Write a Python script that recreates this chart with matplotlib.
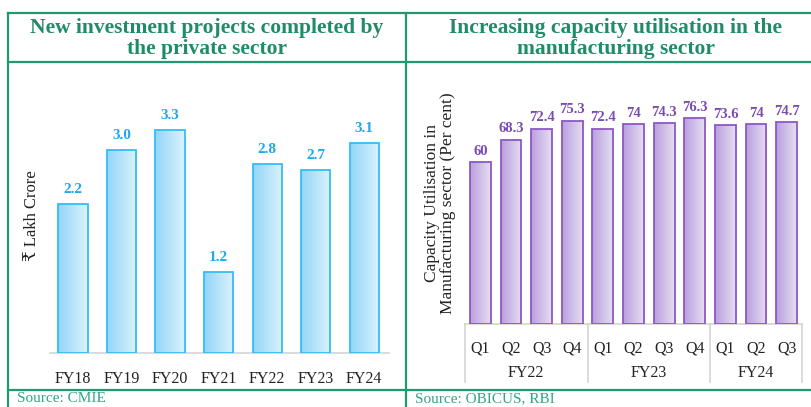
import matplotlib
matplotlib.use("Agg")
import matplotlib.pyplot as plt
import numpy as np
from matplotlib.lines import Line2D
from matplotlib.colors import LinearSegmentedColormap

# ---- data ----
left_categories = ["FY18", "FY19", "FY20", "FY21", "FY22", "FY23", "FY24"]
left_values = [2.2, 3.0, 3.3, 1.2, 2.8, 2.7, 3.1]
left_labels = ["2.2", "3.0", "3.3", "1.2", "2.8", "2.7", "3.1"]

right_quarters = ["Q1", "Q2", "Q3", "Q4", "Q1", "Q2", "Q3", "Q4", "Q1", "Q2", "Q3"]
right_years = ["FY22", "FY23", "FY24"]
right_year_sizes = [4, 4, 3]
right_values = [60, 68.3, 72.4, 75.3, 72.4, 74, 74.3, 76.3, 73.6, 74, 74.7]
right_labels = ["60", "68.3", "72.4", "75.3", "72.4", "74", "74.3", "76.3", "73.6", "74", "74.7"]

left_title = "New investment projects completed by\nthe private sector"
right_title = "Increasing capacity utilisation in the\nmanufacturing sector"
left_ylabel = "₹ Lakh Crore"
right_ylabel = "Capacity Utilisation in\nManufacturing sector (Per cent)"
left_source = "Source: CMIE"
right_source = "Source: OBICUS, RBI"

SERIF = ["Liberation Serif", "DejaVu Serif", "DejaVu Sans"]
plt.rcParams["font.family"] = SERIF

W, H = 812, 407
fig = plt.figure(figsize=(W / 100, H / 100), dpi=100)
fig.patch.set_facecolor("white")

def fx(px):
    return px / W

def fy(py):
    return 1 - py / H

GREEN = "#1f9a70"
TITLE_C = "#1f8c66"
SRC_C = "#2fa585"

# ---- borders ----
lw = 1.6
for (x0, y0, x1, y1) in [
    (8, 13, 812, 13),
    (8, 62, 812, 62),
    (8, 390, 812, 390),
    (8, 13, 8, 407),
    (406, 13, 406, 407),
]:
    fig.add_artist(Line2D([fx(x0), fx(x1)], [fy(y0), fy(y1)], color=GREEN, lw=lw,
                          transform=fig.transFigure))

# ---- titles ----
fig.text(fx(207), fy(38.5), left_title, ha="center", va="center", fontsize=15.5,
         fontweight="bold", color=TITLE_C, linespacing=1.12)
fig.text(fx(616), fy(38.5), right_title, ha="center", va="center", fontsize=15.5,
         fontweight="bold", color=TITLE_C, linespacing=1.12)

# ---- sources ----
fig.text(fx(17), fy(392), left_source, ha="left", va="top", fontsize=11, color=SRC_C)
fig.text(fx(415), fy(392), right_source, ha="left", va="top", fontsize=11, color=SRC_C)


def gradient_bars(ax, bars, c0, c1):
    cmap = LinearSegmentedColormap.from_list("g", [c0, c1])
    grad = np.linspace(0, 1, 64).reshape(1, -1)
    for b in bars:
        x, y = b.get_x(), b.get_y()
        w, h = b.get_width(), b.get_height()
        im = ax.imshow(grad, extent=[x, x + w, y, y + h], aspect="auto", cmap=cmap,
                       zorder=b.get_zorder() - 0.1, interpolation="bicubic")
        im.set_clip_path(b)


# ---- left chart ----
axL = fig.add_axes([fx(50), fy(353), fx(339), (353 - 70) / H])
xl = np.arange(len(left_categories))
barsL = axL.bar(xl, left_values, width=0.6, facecolor="none", edgecolor="#35bdf4",
                linewidth=1.3, zorder=3)
gradient_bars(axL, barsL, "#92d6f8", "#dcf2fd")
axL.set_xlim(-0.473, 6.51)
axL.set_ylim(0, 283 / 67.6)
for i, (v, t) in enumerate(zip(left_values, left_labels)):
    axL.text(i, v + 0.12, t, ha="center", va="bottom", fontsize=11,
             fontweight="bold", color="#1fa8ea")
for s in ["top", "right", "left"]:
    axL.spines[s].set_visible(False)
axL.spines["bottom"].set_color("#d4d4d4")
axL.spines["bottom"].set_linewidth(1.2)
axL.set_yticks([])
axL.set_xticks(xl)
axL.set_xticklabels(left_categories, fontsize=11.5, color="#222222")
axL.tick_params(axis="x", length=0, pad=13)
axL.set_facecolor("none")
fig.text(fx(32), fy(216), left_ylabel, rotation=90, ha="center", va="center",
         fontsize=12, color="#222222", family=SERIF)

# ---- right chart ----
axR = fig.add_axes([fx(465), fy(324), fx(337), (324 - 70) / H])
xr = np.arange(len(right_values))
barsR = axR.bar(xr, right_values, width=0.68, facecolor="none", edgecolor="#8c58c4",
                linewidth=1.3, zorder=3)
gradient_bars(axR, barsR, "#b9a0de", "#e6ddf2")
axR.set_xlim(-0.5, 10.5)
axR.set_ylim(0, 254 / 2.7)
for i, (v, t) in enumerate(zip(right_values, right_labels)):
    axR.text(i, v + 1.6, t, ha="center", va="bottom", fontsize=10.5,
             fontweight="bold", color="#7a4bb0")
for s in ["top", "right", "left"]:
    axR.spines[s].set_visible(False)
axR.spines["bottom"].set_color("#d4d4d4")
axR.spines["bottom"].set_linewidth(1.2)
axR.set_yticks([])
axR.set_xticks(xr)
axR.set_xticklabels(right_quarters, fontsize=11.5, color="#222222")
axR.tick_params(axis="x", length=0, pad=12)
axR.set_facecolor("none")

# group separators and year labels
trans = axR.get_xaxis_transform()
ax_h_px = 254
bounds = np.concatenate([[0], np.cumsum(right_year_sizes)]) - 0.5
for b in bounds:
    axR.add_artist(Line2D([b, b], [0, -58 / ax_h_px], color="#d4d4d4", lw=1.2,
                          transform=trans, clip_on=False))
for k, yr in enumerate(right_years):
    c = (bounds[k] + bounds[k + 1]) / 2
    axR.text(c, -49 / ax_h_px, yr, transform=trans, ha="center", va="center",
             fontsize=11.5, color="#222222")

fig.text(fx(440), fy(203), right_ylabel, rotation=90, ha="center", va="center",
         fontsize=12.5, color="#222222", linespacing=1.05)

fig.savefig("out.png", dpi=100, facecolor="white")
